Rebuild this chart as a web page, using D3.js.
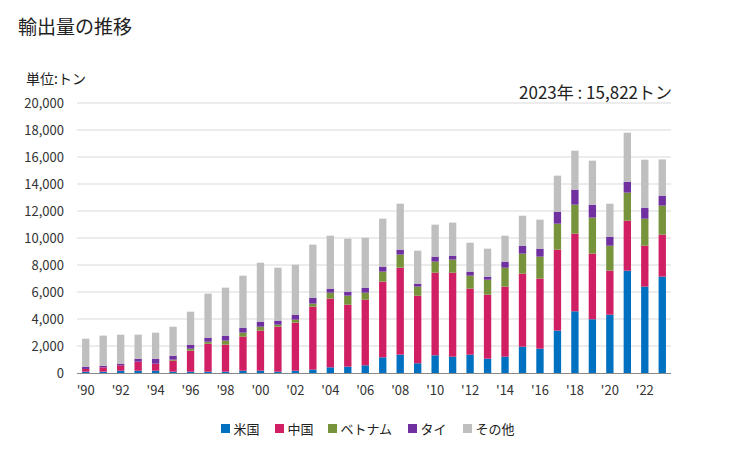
<!DOCTYPE html>
<html><head><meta charset="utf-8">
<script src="https://cdn.jsdelivr.net/npm/d3@7"></script>
<style>body{margin:0;background:#fff;}svg{display:block;font-family:"Noto Sans CJK JP","Noto Sans",sans-serif;}</style>
</head><body><svg id="c" width="729" height="450"></svg>
<script>
const years = d3.range(1990, 2024);
const seriesNames = ["米国","中国","ベトナム","タイ","その他"];
const colors = ["#0070c0","#d01f63","#77933c","#7030a0","#bfbfbf"];
const us = [100,100,170,170,170,100,100,100,100,170,170,100,170,250,420,470,570,1160,1360,720,1310,1210,1360,1060,1210,1950,1800,3140,4570,3980,4320,7580,6400,7140];
const china = [200,320,400,670,520,810,1550,2070,2000,2520,2970,3330,3560,4660,5090,4590,4860,5610,6440,5010,6120,6220,4890,4740,5190,5410,5190,6000,5750,4860,3260,3700,3030,3110];
const vietnam = [0,0,0,0,0,80,150,150,300,300,290,150,220,230,440,670,520,740,970,670,820,970,960,1110,1400,1480,1630,1920,2150,2670,1850,2080,2000,2150];
const thai = [170,120,120,220,370,290,300,300,370,370,370,300,370,440,300,290,370,370,370,220,370,290,300,230,450,590,590,890,1110,960,670,810,820,740];
const other = [2070,2230,2150,1780,1930,2150,2440,3260,3550,3850,4370,3920,3700,3930,3920,3930,3700,3550,3400,2440,2370,2450,2140,2070,1920,2220,2150,2670,2890,3260,2440,3630,3550,2680];
const yTicks = [0,2000,4000,6000,8000,10000,12000,14000,16000,18000,20000];

const table = years.map((y,i)=>({year:y, "米国":us[i], "中国":china[i], "ベトナム":vietnam[i], "タイ":thai[i], "その他":other[i]}));
const stack = d3.stack().keys(seriesNames)(table);

const svg = d3.select("#c");
const x = d3.scaleBand().domain(years).range([77,671]).paddingInner(0.58).paddingOuter(0.29);
const y = d3.scaleLinear().domain([0,20000]).range([373,103]);

// gridlines
svg.append("g").selectAll("line").data(yTicks.slice(1)).join("line")
  .attr("x1",77).attr("x2",671).attr("y1",d=>y(d)).attr("y2",d=>y(d))
  .attr("stroke","#d9d9d9").attr("stroke-width",1);

// bars
svg.append("g").selectAll("g").data(stack).join("g")
  .attr("fill",(d,i)=>colors[i])
  .selectAll("rect").data(d=>d).join("rect")
  .attr("x",d=>x(d.data.year)).attr("width",x.bandwidth())
  .attr("y",d=>y(d[1])).attr("height",d=>Math.max(0,y(d[0])-y(d[1])));

// x axis line
svg.append("line").attr("x1",77).attr("x2",671).attr("y1",373.5).attr("y2",373.5).attr("stroke","#898989").attr("stroke-width",1);

// y axis labels
const yAxis = d3.axisLeft(y).tickValues(yTicks).tickFormat(d3.format(",")).tickSize(0).tickPadding(0);
const gy = svg.append("g").attr("transform","translate(64,0)").call(yAxis);
gy.select(".domain").remove();
gy.selectAll("text").attr("font-size",13).attr("fill","#333").attr("font-family","\"Noto Sans CJK JP\",sans-serif");

// x axis labels
const xAxis = d3.axisBottom(x).tickValues(years.filter(v=>v%2===0)).tickFormat(d=>"'"+String(d).slice(2)).tickSize(0).tickPadding(0);
const gx = svg.append("g").attr("transform","translate(0,386)").call(xAxis);
gx.select(".domain").remove();
gx.selectAll("text").attr("font-size",13).attr("fill","#333").attr("font-family","\"Noto Sans CJK JP\",sans-serif");

// titles
svg.append("text").attr("x",18).attr("y",34).attr("font-size",19).attr("fill","#222").text("輸出量の推移");
svg.append("text").attr("x",26).attr("y",84).attr("font-size",14).attr("fill","#222").text("単位:トン");
svg.append("text").attr("x",672).attr("y",99).attr("text-anchor","end").attr("font-size",17).attr("fill","#222").text("2023年 : 15,822トン");

// legend
const legX = [221,275,328,408,463];
const lg = svg.append("g").selectAll("g").data(seriesNames).join("g")
  .attr("transform",(d,i)=>`translate(${legX[i]},424)`);
lg.append("rect").attr("width",9).attr("height",9).attr("fill",(d,i)=>colors[i]);
lg.append("text").attr("x",12.5).attr("y",9.5).attr("font-size",13).attr("fill","#222").text(d=>d);
</script></body></html>
